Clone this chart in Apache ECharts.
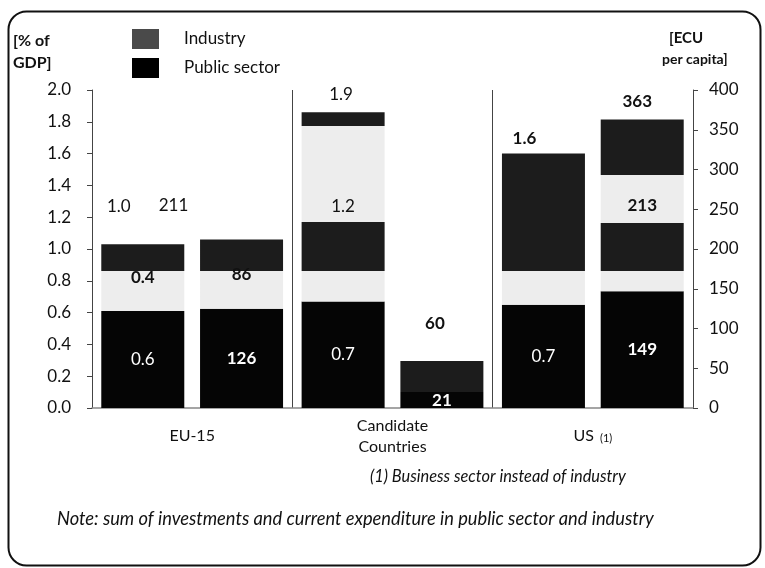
<!DOCTYPE html>
<html>
<head>
<meta charset="utf-8">
<script src="https://cdn.jsdelivr.net/npm/echarts@6/dist/echarts.min.js"></script>
<style>
  html, body { margin: 0; padding: 0; background: #fff; }
  #chart { width: 765px; height: 568px; }
</style>
</head>
<body>
<div id="chart"></div>
<script>
// values (bar heights) and the printed figures
const categories = ['EU-15', 'Candidate\nCountries', 'US']
const gdpPublic = [0.61, 0.67, 0.65]        // % of GDP, public sector
const gdpIndustry = [0.42, 1.19, 0.95]      // % of GDP, industry / business
const ecuPublic = [125, 20, 147]            // ECU per capita, public sector
const ecuIndustry = [87, 39, 216]           // ECU per capita, industry / business
const gdpPublicText = ['0.6', '0.7', '0.7']
const gdpIndustryText = ['0.4', '1.2', '']
const gdpTotalText = ['1.0', '1.9', '1.6']
const ecuPublicText = ['126', '21', '149']
const ecuIndustryText = ['86', '', '213']
const ecuTotalText = ['211', '60', '363']

const FONT = 'Lato, "Open Sans", sans-serif'
const H = 568

// the scanned halftone shows as dark with pale bands
function halftone(bands) {
  const stops = [{ offset: 0, color: '#1c1c1c' }]
  bands.forEach(([a, b]) => {
    stops.push({ offset: a / H, color: '#1c1c1c' }, { offset: a / H, color: '#ededed' })
    stops.push({ offset: b / H, color: '#ededed' }, { offset: b / H, color: '#1c1c1c' })
  })
  stops.push({ offset: 1, color: '#1c1c1c' })
  return { type: 'linear', x: 0, y: 0, x2: 0, y2: H, global: true, colorStops: stops }
}
const baseBand = [271, 312]
const industryFill = {
  gdp: [[baseBand], [[126, 222], baseBand], [baseBand]],
  ecu: [[baseBand], [baseBand], [[175, 223], baseBand]],
}

// offsets of the total labels (pixel nudges, as printed)
const gdpTotalOffset = [[-24, -24], [-2, -4], [-19, -2]]
const ecuTotalOffset = [[-68, -20], [-7, -24], [-5, -4]]

const barBase = { type: 'bar', barWidth: 83, barGap: '19%' }
const labelBase = { show: true, fontFamily: FONT, fontSize: 17 }

function segment(name, stack, axis, values, texts, fills, color, txtColor, boldIdx) {
  return {
    ...barBase, name, stack, yAxisIndex: axis,
    itemStyle: { color },
    label: { ...labelBase, position: 'inside', color: txtColor },
    data: values.map((v, i) => ({
      value: v,
      itemStyle: fills ? { color: halftone(fills[i]) } : undefined,
      label: { formatter: texts[i], fontWeight: boldIdx.includes(i) ? 'bold' : 'normal' },
    })),
  }
}
function totals(stack, axis, texts, offsets, boldIdx) {
  return {
    ...barBase, name: 'total-' + stack, stack, yAxisIndex: axis,
    itemStyle: { color: 'transparent' },
    label: { ...labelBase, position: 'top', distance: 5, color: '#111' },
    data: texts.map((t, i) => ({
      value: 0,
      label: { formatter: t, offset: offsets[i], fontWeight: boldIdx.includes(i) ? 'bold' : 'normal' },
    })),
  }
}

const chart = echarts.init(document.getElementById('chart'))
chart.setOption({
  animation: false,
  textStyle: { fontFamily: FONT },
  grid: { left: 92, right: 72, top: 90, bottom: 160 },
  legend: {
    orient: 'vertical', left: 127, top: 24, itemWidth: 27, itemGap: 9, itemHeight: 20,
    icon: 'rect', selectedMode: false,
    textStyle: { fontFamily: FONT, fontSize: 17, color: '#111', padding: [4, 0, 0, 20] },
    data: [
      { name: 'Industry', itemStyle: { color: '#4a4a4a' } },
      { name: 'Public sector', itemStyle: { color: '#000' } },
    ],
  },
  xAxis: {
    type: 'category', data: categories,
    axisLine: { lineStyle: { color: '#888', width: 1.5 } },
    axisTick: { show: false },
    splitLine: { show: true, lineStyle: { color: '#444', width: 1 } },
    axisLabel: {
      margin: 28, verticalAlign: 'middle', fontSize: 16, lineHeight: 21, color: '#111',
      fontFamily: FONT,
      formatter: (v) => v === 'US' ? 'US {s|(1)}' : v,
      rich: { s: { fontSize: 11, fontFamily: FONT, color: '#111', padding: [4, 0, 0, 2] } },
    },
  },
  yAxis: [
    {
      type: 'value', min: 0, max: 2, interval: 0.2,
      axisLine: { show: true, lineStyle: { color: '#444' } },
      axisTick: { show: true, length: 5, lineStyle: { color: '#444' } },
      splitLine: { show: false },
      axisLabel: { margin: 21, fontSize: 17, color: '#111', formatter: (v) => v.toFixed(1) },
    },
    {
      type: 'value', min: 0, max: 400, interval: 50, position: 'right',
      axisLine: { show: true, lineStyle: { color: '#444' } },
      axisTick: { show: true, length: 5, lineStyle: { color: '#444' } },
      splitLine: { show: false },
      axisLabel: { margin: 16, fontSize: 17, color: '#111' },
    },
  ],
  series: [
    segment('Public sector', 'gdp', 0, gdpPublic, gdpPublicText, null, '#050505', '#fff', []),
    segment('Industry', 'gdp', 0, gdpIndustry, gdpIndustryText, industryFill.gdp, '#1c1c1c', '#111', [0]),
    totals('gdp', 0, gdpTotalText, gdpTotalOffset, [2]),
    segment('Public sector', 'ecu', 1, ecuPublic, ecuPublicText, null, '#050505', '#fff', [0, 1, 2]),
    segment('Industry', 'ecu', 1, ecuIndustry, ecuIndustryText, industryFill.ecu, '#1c1c1c', '#111', [0, 2]),
    totals('ecu', 1, ecuTotalText, ecuTotalOffset, [1, 2]),
  ],
  graphic: [
    {
      type: 'rect', left: 6, top: 9, z: -1,
      shape: { width: 752, height: 554, r: 18 },
      style: { fill: 'none', stroke: '#111', lineWidth: 2 },
    },
    {
      type: 'text', left: 13, top: 30,
      style: { text: '[% of\nGDP]', fontFamily: FONT, fontSize: 16, fontWeight: 'bold', lineHeight: 22, fill: '#111' },
    },
    {
      type: 'text', left: 669, top: 31,
      style: { text: '[ECU', fontFamily: FONT, fontSize: 15, fontWeight: 'bold', fill: '#111' },
    },
    {
      type: 'text', left: 662, top: 52,
      style: { text: 'per capita]', fontFamily: FONT, fontSize: 14, fontWeight: 'bold', fill: '#111' },
    },
    {
      type: 'text', left: 370, top: 469,
      style: { text: '(1) Business sector instead of industry', fontStyle: 'italic', fontFamily: FONT, fontSize: 16.4, fill: '#111' },
    },
    {
      type: 'text', left: 57, top: 510,
      style: { text: 'Note: sum of investments and current expenditure in public sector and industry', fontStyle: 'italic', fontFamily: FONT, fontSize: 18.3, fill: '#111' },
    },
  ],
})
</script>
</body>
</html>
